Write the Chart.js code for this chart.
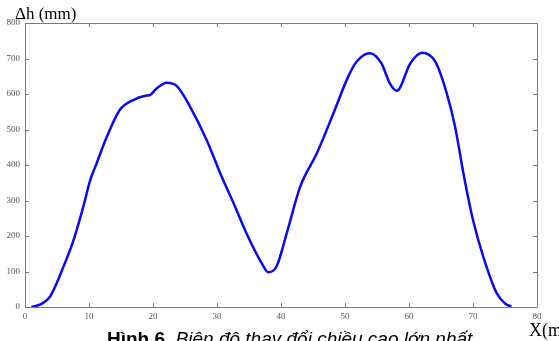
<!DOCTYPE html>
<html>
<head>
<meta charset="utf-8">
<script src="https://cdn.jsdelivr.net/npm/chart.js@4"></script>
<style>
  html, body { margin: 0; padding: 0; background: #fff; overflow: hidden; }
  #wrap { position: relative; width: 559px; height: 341px; }
  canvas { position: absolute; left: 0; top: 0; }
  .lbl { position: absolute; white-space: nowrap; line-height: 1; }
  #ytitle { left: 15px; top: 4px; font: 17px "Liberation Serif", serif; color: #000; }
  #xtitle { left: 529px; top: 320px; font: 18px "Liberation Serif", serif; color: #000; }
  #caption { left: 107px; top: 328px; font: 19px "Liberation Sans", Arial, sans-serif; color: #000; }
  #caption b { font-weight: bold; }
  #caption i { font-style: italic; }
</style>
</head>
<body>
<div id="wrap">
  <canvas id="c" width="559" height="341"></canvas>
  <div class="lbl" id="ytitle">Δh (mm)</div>
  <div class="lbl" id="xtitle">X(m</div>
  <div class="lbl" id="caption"><b>Hình 6</b>. <i>Biên độ thay đổi chiều cao lớn nhất</i></div>
</div>
<script>
'use strict';

// ── Data ──────────────────────────────────────────────────────────────────
const X_POS = [1, 2.5, 3.9, 6.0, 7.6, 9.1, 10.2, 11.2, 12.8, 14.8, 16.9, 18.8, 19.5, 20.6, 22.1, 23.7,
               25.8, 28.4, 30.5, 32.6, 34.6, 37.0, 38.0, 39.3, 40.9, 43.0, 45.6, 48.2, 50.5, 51.8,
               53.9, 55.7, 57.0, 58.1, 60.2, 62.0, 64.1, 65.9, 67.2, 68.5, 70.0, 71.6, 73.7, 75.0, 76.0];
const DH_MM = [0, 8, 29, 113, 189, 282, 358, 405, 480, 555, 583, 595, 597, 616, 632, 623,
               564, 470, 377, 292, 208, 123, 98, 114, 208, 339, 433, 546, 649, 691,
               715, 686, 630, 609, 686, 716, 691, 602, 508, 377, 245, 142, 39, 10, 1];

const X_MIN = 0, X_MAX = 80, X_STEP = 10;
const Y_MIN = 0, Y_MAX = 800, Y_STEP = 100;

const COL_LINE  = '#0a0af0';
const COL_FRAME = '#7a7a7a';
const TICK_LEN  = 4;

// ── Frame with inward tick marks on all four sides ────────────────────────
const framePlugin = {
  id: 'frame',
  beforeDatasetsDraw(chart) {
    const { ctx, chartArea: a, scales: { x, y } } = chart;
    ctx.save();
    ctx.strokeStyle = COL_FRAME;
    ctx.lineWidth = 1;
    ctx.beginPath();
    ctx.rect(Math.round(a.left) + 0.5, Math.round(a.top) + 0.5,
             Math.round(a.right - a.left), Math.round(a.bottom - a.top));
    for (const t of x.ticks) {
      const px = Math.round(x.getPixelForValue(t.value)) + 0.5;
      ctx.moveTo(px, a.bottom); ctx.lineTo(px, a.bottom - TICK_LEN);
      ctx.moveTo(px, a.top);    ctx.lineTo(px, a.top + TICK_LEN);
    }
    for (const t of y.ticks) {
      const py = Math.round(y.getPixelForValue(t.value)) + 0.5;
      ctx.moveTo(a.left, py);  ctx.lineTo(a.left + TICK_LEN, py);
      ctx.moveTo(a.right, py); ctx.lineTo(a.right - TICK_LEN, py);
    }
    ctx.stroke();
    ctx.restore();
  },
};

const tickFont = { family: '"Liberation Serif", serif', size: 9 };

new Chart(document.getElementById('c'), {
  type: 'line',
  data: {
    datasets: [{
      data: X_POS.map((v, i) => ({ x: v, y: DH_MM[i] })),
      borderColor: COL_LINE,
      borderWidth: 2.5,
      pointRadius: 0,
      cubicInterpolationMode: 'monotone',
      fill: false,
    }],
  },
  options: {
    responsive: false,
    animation: false,
    devicePixelRatio: 1,
    layout: { padding: { left: 0, right: 22, top: 23, bottom: 0 } },
    plugins: { legend: { display: false }, tooltip: { enabled: false } },
    scales: {
      x: {
        type: 'linear', min: X_MIN, max: X_MAX,
        ticks: { stepSize: X_STEP, padding: 4, color: '#555', font: tickFont, maxRotation: 0 },
        grid: { display: false, drawTicks: false },
        border: { display: false },
        afterFit(s) { s.height = 34; },
      },
      y: {
        min: Y_MIN, max: Y_MAX,
        ticks: { stepSize: Y_STEP, padding: 5, color: '#555', font: tickFont },
        grid: { display: false, drawTicks: false },
        border: { display: false },
        afterFit(s) { s.width = 25; },
      },
    },
  },
  plugins: [framePlugin],
});
</script>
</body>
</html>
